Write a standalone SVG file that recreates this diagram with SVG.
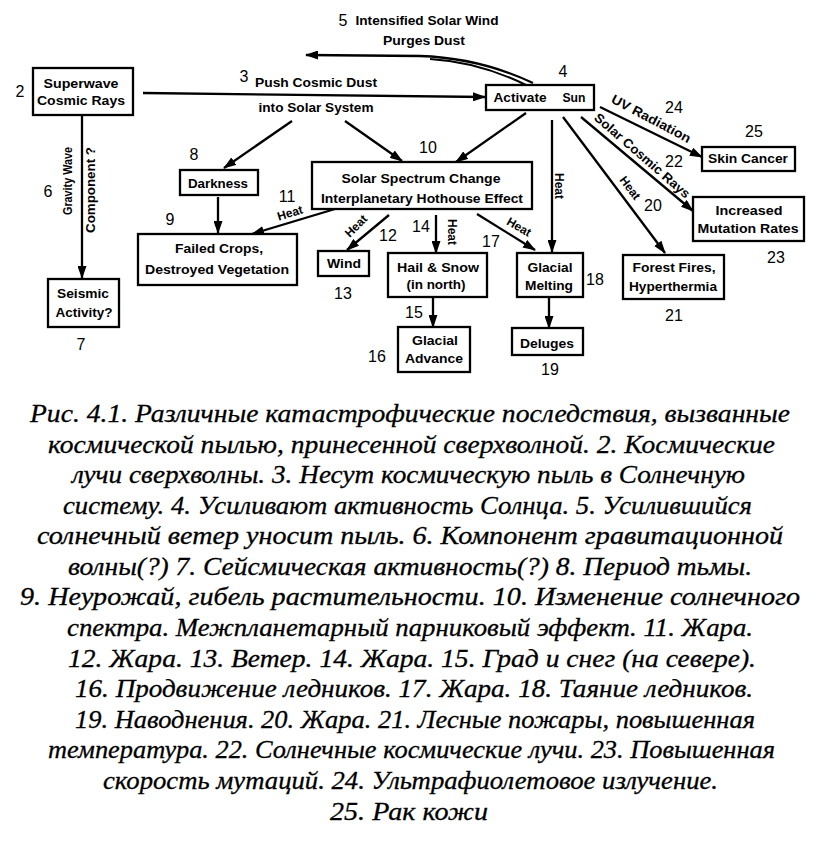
<svg xmlns="http://www.w3.org/2000/svg" width="824" height="845" viewBox="0 0 824 845">
<defs>
<marker id="ah" markerWidth="13" markerHeight="9" refX="12" refY="4.5" orient="auto" markerUnits="userSpaceOnUse">
<path d="M0,0 L13,4.5 L0,9 Z" fill="#000"/>
</marker>
<style>
.box{fill:#fff;stroke:#000;stroke-width:2.3}
.lb{font-family:"Liberation Sans",Arial,sans-serif;font-weight:bold;font-size:13px;fill:#000;text-anchor:middle}
.ht{font-family:"Liberation Sans",Arial,sans-serif;font-weight:bold;font-size:12px;fill:#000;text-anchor:middle}
.num{font-family:"Liberation Sans",Arial,sans-serif;font-size:16px;fill:#000;text-anchor:middle}
.ar{fill:none;stroke:#000;stroke-width:2.3;marker-end:url(#ah)}
.ln{fill:none;stroke:#000;stroke-width:2}
.cap{font-family:"Liberation Serif","Times New Roman",serif;font-style:italic;font-size:26px;fill:#000;stroke:#000;stroke-width:0.3;text-anchor:middle}
</style>
</defs>
<rect width="824" height="845" fill="#fff"/>

<g id="connectors">
<path class="ar" d="M143,93 L485,97"/>
<path class="ar" d="M533,83 Q480,58 420,56 L306,55"/>
<path class="ln" d="M528,86 Q480,62 430,59"/>
<path class="ar" d="M292,121 L224,168"/>
<path class="ar" d="M345,121 L402,161"/>
<path class="ar" d="M526,113 L456,162"/>
<path class="ar" d="M82,115 L82,278"/>
<path class="ar" d="M218,197 L218,233"/>
<path class="ar" d="M335,209 L252,234"/>
<path class="ar" d="M389,215 L347,250"/>
<path class="ar" d="M436,215 L436,253"/>
<path class="ar" d="M477,214 L535,250"/>
<path class="ar" d="M552,120 L552,252"/>
<path class="ar" d="M433,297 L433,327"/>
<path class="ar" d="M549,297 L549,328"/>
<path class="ar" d="M563,117 L665,253"/>
<path class="ar" d="M581,117 L693,211"/>
<path class="ar" d="M600,107 L702,157"/>
</g>

<g id="edge-labels">
<text class="num" x="343" y="26">5</text>
<text class="lb" x="427" y="25" textLength="143" lengthAdjust="spacingAndGlyphs">Intensified Solar Wind</text>
<text class="lb" x="424" y="45" textLength="82" lengthAdjust="spacingAndGlyphs">Purges Dust</text>
<text class="num" x="244" y="82">3</text>
<text class="lb" x="316" y="87" textLength="122" lengthAdjust="spacingAndGlyphs">Push Cosmic Dust</text>
<text class="lb" x="316" y="112" textLength="115" lengthAdjust="spacingAndGlyphs">into Solar System</text>
<text class="num" x="48" y="197">6</text>
<text class="lb" transform="translate(68,181) rotate(-90)" y="4" textLength="68" lengthAdjust="spacingAndGlyphs">Gravity Wave</text>
<text class="lb" transform="translate(91,190) rotate(-90)" y="4" textLength="86" lengthAdjust="spacingAndGlyphs">Component ?</text>
<text class="num" x="287" y="202">11</text>
<text class="ht" transform="translate(290,213) rotate(-17)" y="4">Heat</text>
<text class="ht" transform="translate(356,226) rotate(-45)" y="4">Heat</text>
<text class="num" x="388" y="241">12</text>
<text class="num" x="421" y="232">14</text>
<text class="ht" transform="translate(452,232) rotate(90)" y="4">Heat</text>
<text class="num" x="491" y="247">17</text>
<text class="ht" transform="translate(519,227) rotate(30)" y="4">Heat</text>
<text class="ht" transform="translate(559,186) rotate(90)" y="4">Heat</text>
<text class="ht" transform="translate(630,188) rotate(53)" y="4">Heat</text>
<text class="num" x="653" y="211">20</text>
<text class="lb" transform="translate(642,156) rotate(41)" y="4" textLength="122" lengthAdjust="spacingAndGlyphs">Solar Cosmic Rays</text>
<text class="num" x="674" y="167">22</text>
<text class="lb" transform="translate(651,119) rotate(28)" y="4" textLength="88" lengthAdjust="spacingAndGlyphs">UV Radiation</text>
<text class="num" x="674" y="113">24</text>
<text class="num" x="414" y="318">15</text>
</g>

<g id="n2">
<rect class="box" x="33" y="68" width="100" height="47"/>
<text class="lb" x="81" y="88" textLength="75" lengthAdjust="spacingAndGlyphs">Superwave</text>
<text class="lb" x="81" y="105" textLength="88" lengthAdjust="spacingAndGlyphs">Cosmic Rays</text>
<text class="num" x="20" y="97">2</text>
</g>

<g id="n4">
<rect class="box" x="486" y="85" width="108" height="25"/>
<text class="lb" x="520" y="102" textLength="53" lengthAdjust="spacingAndGlyphs">Activate</text>
<text class="lb" x="574" y="102" textLength="23" lengthAdjust="spacingAndGlyphs">Sun</text>
<text class="num" x="563" y="77">4</text>
</g>

<g id="n7">
<rect class="box" x="48" y="279" width="71" height="48"/>
<text class="lb" x="83" y="298" textLength="52" lengthAdjust="spacingAndGlyphs">Seismic</text>
<text class="lb" x="84" y="317" textLength="57" lengthAdjust="spacingAndGlyphs">Activity?</text>
<text class="num" x="81" y="350">7</text>
</g>

<g id="n8">
<rect class="box" x="180" y="170" width="78" height="25"/>
<text class="lb" x="218" y="188" textLength="60" lengthAdjust="spacingAndGlyphs">Darkness</text>
<text class="num" x="194" y="160">8</text>
</g>

<g id="n9">
<rect class="box" x="138" y="234" width="159" height="51"/>
<text class="lb" x="219" y="253" textLength="88" lengthAdjust="spacingAndGlyphs">Failed Crops,</text>
<text class="lb" x="217" y="274" textLength="144" lengthAdjust="spacingAndGlyphs">Destroyed Vegetation</text>
<text class="num" x="170" y="225">9</text>
</g>

<g id="n10">
<rect class="box" x="312" y="162" width="220" height="47"/>
<text class="lb" x="421" y="183" textLength="159" lengthAdjust="spacingAndGlyphs">Solar Spectrum Change</text>
<text class="lb" x="422" y="203" textLength="202" lengthAdjust="spacingAndGlyphs">Interplanetary Hothouse Effect</text>
<text class="num" x="428" y="153">10</text>
</g>

<g id="n13">
<rect class="box" x="318" y="251" width="51" height="25"/>
<text class="lb" x="344" y="268" textLength="34" lengthAdjust="spacingAndGlyphs">Wind</text>
<text class="num" x="343" y="299">13</text>
</g>

<g id="n15">
<rect class="box" x="388" y="253" width="99" height="44"/>
<text class="lb" x="438" y="272" textLength="82" lengthAdjust="spacingAndGlyphs">Hail &amp; Snow</text>
<text class="lb" x="436" y="289" textLength="59" lengthAdjust="spacingAndGlyphs">(in north)</text>
</g>

<g id="n16">
<rect class="box" x="398" y="327" width="72" height="45"/>
<text class="lb" x="435" y="345" textLength="46" lengthAdjust="spacingAndGlyphs">Glacial</text>
<text class="lb" x="434" y="363" textLength="58" lengthAdjust="spacingAndGlyphs">Advance</text>
<text class="num" x="377" y="362">16</text>
</g>

<g id="n18">
<rect class="box" x="517" y="253" width="66" height="44"/>
<text class="lb" x="550" y="272" textLength="45" lengthAdjust="spacingAndGlyphs">Glacial</text>
<text class="lb" x="549" y="290" textLength="48" lengthAdjust="spacingAndGlyphs">Melting</text>
<text class="num" x="595" y="285">18</text>
</g>

<g id="n19">
<rect class="box" x="512" y="328" width="71" height="27"/>
<text class="lb" x="547" y="348" textLength="54" lengthAdjust="spacingAndGlyphs">Deluges</text>
<text class="num" x="550" y="375">19</text>
</g>

<g id="n21">
<rect class="box" x="623" y="255" width="101" height="44"/>
<text class="lb" x="674" y="272" textLength="83" lengthAdjust="spacingAndGlyphs">Forest Fires,</text>
<text class="lb" x="673" y="291" textLength="88" lengthAdjust="spacingAndGlyphs">Hyperthermia</text>
<text class="num" x="674" y="321">21</text>
</g>

<g id="n23">
<rect class="box" x="693" y="197" width="111" height="44"/>
<text class="lb" x="749" y="215" textLength="67" lengthAdjust="spacingAndGlyphs">Increased</text>
<text class="lb" x="748" y="233" textLength="101" lengthAdjust="spacingAndGlyphs">Mutation Rates</text>
<text class="num" x="776" y="263">23</text>
</g>

<g id="n25">
<rect class="box" x="702" y="147" width="93" height="24"/>
<text class="lb" x="748" y="163" textLength="80" lengthAdjust="spacingAndGlyphs">Skin Cancer</text>
<text class="num" x="754" y="137">25</text>
</g>

<g id="caption">
<text class="cap" x="410" y="422" textLength="760" lengthAdjust="spacingAndGlyphs">Рис. 4.1. Различные катастрофические последствия, вызванные</text>
<text class="cap" x="411.5" y="452.6" textLength="727" lengthAdjust="spacingAndGlyphs">космической пылью, принесенной сверхволной. 2. Космические</text>
<text class="cap" x="408.5" y="483" textLength="673" lengthAdjust="spacingAndGlyphs">лучи сверхволны. 3. Несут космическую пыль в Солнечную</text>
<text class="cap" x="407.5" y="514" textLength="689" lengthAdjust="spacingAndGlyphs">систему. 4. Усиливают активность Солнца. 5. Усилившийся</text>
<text class="cap" x="410" y="544" textLength="746" lengthAdjust="spacingAndGlyphs">солнечный ветер уносит пыль. 6. Компонент гравитационной</text>
<text class="cap" x="410" y="575" textLength="684" lengthAdjust="spacingAndGlyphs">волны(?) 7. Сейсмическая активность(?) 8. Период тьмы.</text>
<text class="cap" x="410" y="605" textLength="780" lengthAdjust="spacingAndGlyphs">9. Неурожай, гибель растительности. 10. Изменение солнечного</text>
<text class="cap" x="410" y="636" textLength="686" lengthAdjust="spacingAndGlyphs">спектра. Межпланетарный парниковый эффект. 11. Жара.</text>
<text class="cap" x="412" y="667" textLength="688" lengthAdjust="spacingAndGlyphs">12. Жара. 13. Ветер. 14. Жара. 15. Град и снег (на севере).</text>
<text class="cap" x="414" y="697" textLength="678" lengthAdjust="spacingAndGlyphs">16. Продвижение ледников. 17. Жара. 18. Таяние ледников.</text>
<text class="cap" x="415" y="728" textLength="680" lengthAdjust="spacingAndGlyphs">19. Наводнения. 20. Жара. 21. Лесные пожары, повышенная</text>
<text class="cap" x="411.5" y="758" textLength="727" lengthAdjust="spacingAndGlyphs">температура. 22. Солнечные космические лучи. 23. Повышенная</text>
<text class="cap" x="410.5" y="789" textLength="615" lengthAdjust="spacingAndGlyphs">скорость мутаций. 24. Ультрафиолетовое излучение.</text>
<text class="cap" x="409" y="820" textLength="158" lengthAdjust="spacingAndGlyphs">25. Рак кожи</text>
</g>
</svg>
